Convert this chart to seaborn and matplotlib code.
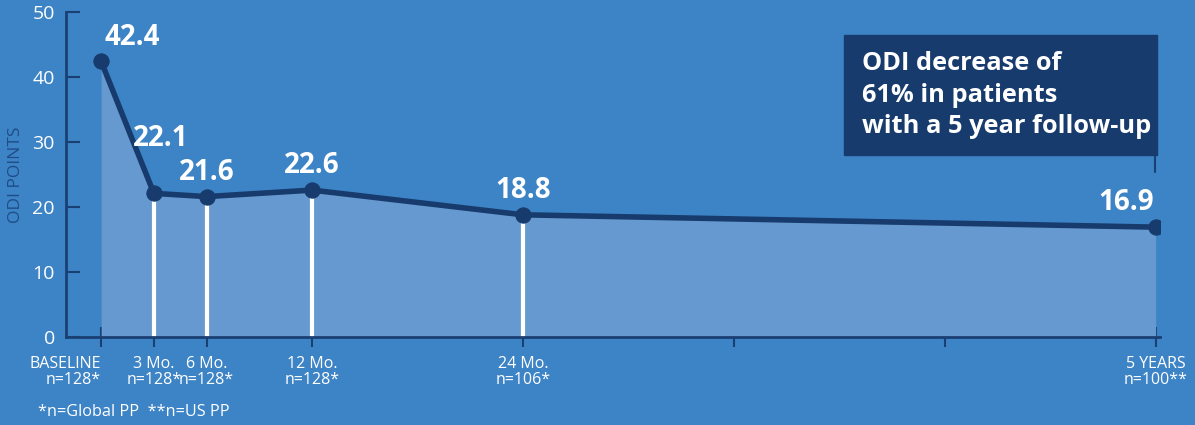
import matplotlib
matplotlib.use("Agg")
import matplotlib.pyplot as plt
import seaborn as sns
import pandas as pd
from matplotlib.patches import Rectangle

# ---- data ----
timepoints = ["BASELINE", "3 Mo.", "6 Mo.", "12 Mo.", "24 Mo.", "5 YEARS"]
months = [0, 3, 6, 12, 24, 60]
odi_values = [42.4, 22.1, 21.6, 22.6, 18.8, 16.9]
n_labels = ["n=128*", "n=128*", "n=128*", "n=128*", "n=106*", "n=100**"]
extra_ticks = [36, 48]
y_ticks = [0, 10, 20, 30, 40, 50]
box_text = "ODI decrease of\n61% in patients\nwith a 5 year follow-up"
footnote = "*n=Global PP  **n=US PP"

df = pd.DataFrame({"month": months, "odi": odi_values, "label": timepoints})

BG = "#3d84c6"
FILL = "#6699cf"
NAVY = "#173b6d"
AXNAVY = "#1a3f73"

sns.set_theme(style="white")
plt.rcParams["font.family"] = ["Open Sans", "DejaVu Sans"]

fig = plt.figure(figsize=(11.95, 4.25), dpi=100)
fig.patch.set_facecolor(BG)
ax = fig.add_axes([66 / 1195, 88 / 425, 1094 / 1195, 325 / 425])
ax.set_facecolor(BG)

ax.set_xlim(-2, 60.25)
ax.set_ylim(0, 50)

# area under curve
ax.fill_between(df["month"], df["odi"], 0, color=FILL, lw=0, zorder=1)
# white drop lines for intermediate points
for m, v in zip(months[1:-1], odi_values[1:-1]):
    ax.vlines(m, 0, v, color="white", lw=3, zorder=2)

sns.lineplot(data=df, x="month", y="odi", ax=ax, color=NAVY, lw=4,
             marker="o", markersize=11, markeredgecolor=NAVY,
             markerfacecolor=NAVY, zorder=4, legend=False)

# value labels
offsets = [(22, 12), (5, 34), (0, 12), (0, 12), (0, 12), (-21, 12)]
for m, v, off in zip(months, odi_values, offsets):
    ax.annotate(f"{v:.1f}", (m, v), xytext=off, textcoords="offset points",
                ha="center", va="baseline", color="white", fontsize=20,
                fontweight="bold", zorder=5)

# spines
for s in ["top", "right"]:
    ax.spines[s].set_visible(False)
for s in ["left", "bottom"]:
    ax.spines[s].set_color(AXNAVY)
    ax.spines[s].set_linewidth(2)

ax.set_yticks(y_ticks)
ax.set_yticklabels([str(t) for t in y_ticks], color="white", fontsize=14)
ax.tick_params(axis="y", left=True, direction="in", length=10, width=1.5,
               color=AXNAVY, pad=8)

ax.set_xticks(months + extra_ticks)
ax.set_xticklabels([])
ax.tick_params(axis="x", bottom=True, direction="inout", length=14, width=1.5,
               color=AXNAVY)

ax.set_xlabel("")
ax.set_ylabel("ODI POINTS", color="#1f4d88", fontsize=12.5)
ax.yaxis.set_label_coords(-0.038, 0.5)

# two-line tick labels
for i, (m, t, n) in enumerate(zip(months, timepoints, n_labels)):
    ha = "right" if i == 0 else "center"
    ax.annotate(f"{t}\n{n}", (m, 0), xytext=(0, -14), textcoords="offset points",
                ha=ha, va="top", color="white", fontsize=11.5, linespacing=1.0,
                annotation_clip=False)

fig.text(38 / 1195, 1 - 412 / 425, footnote, color="white", fontsize=11.7,
         ha="left", va="center")

# callout box
fig.patches.append(Rectangle((844 / 1195, 1 - 155 / 425), 313 / 1195, 120 / 425,
                             transform=fig.transFigure, color=NAVY, zorder=3))
fig.text(862 / 1195, 1 - 95 / 425, box_text, color="white", fontsize=18.3,
         fontweight="bold", ha="left", va="center", linespacing=1.32, zorder=4)
fig.add_artist(plt.Line2D([1155 / 1195, 1155 / 1195], [1 - 155 / 425, 1 - 172 / 425],
                          color=AXNAVY, lw=1.5))

fig.savefig("out.png", dpi=100, facecolor=BG)
